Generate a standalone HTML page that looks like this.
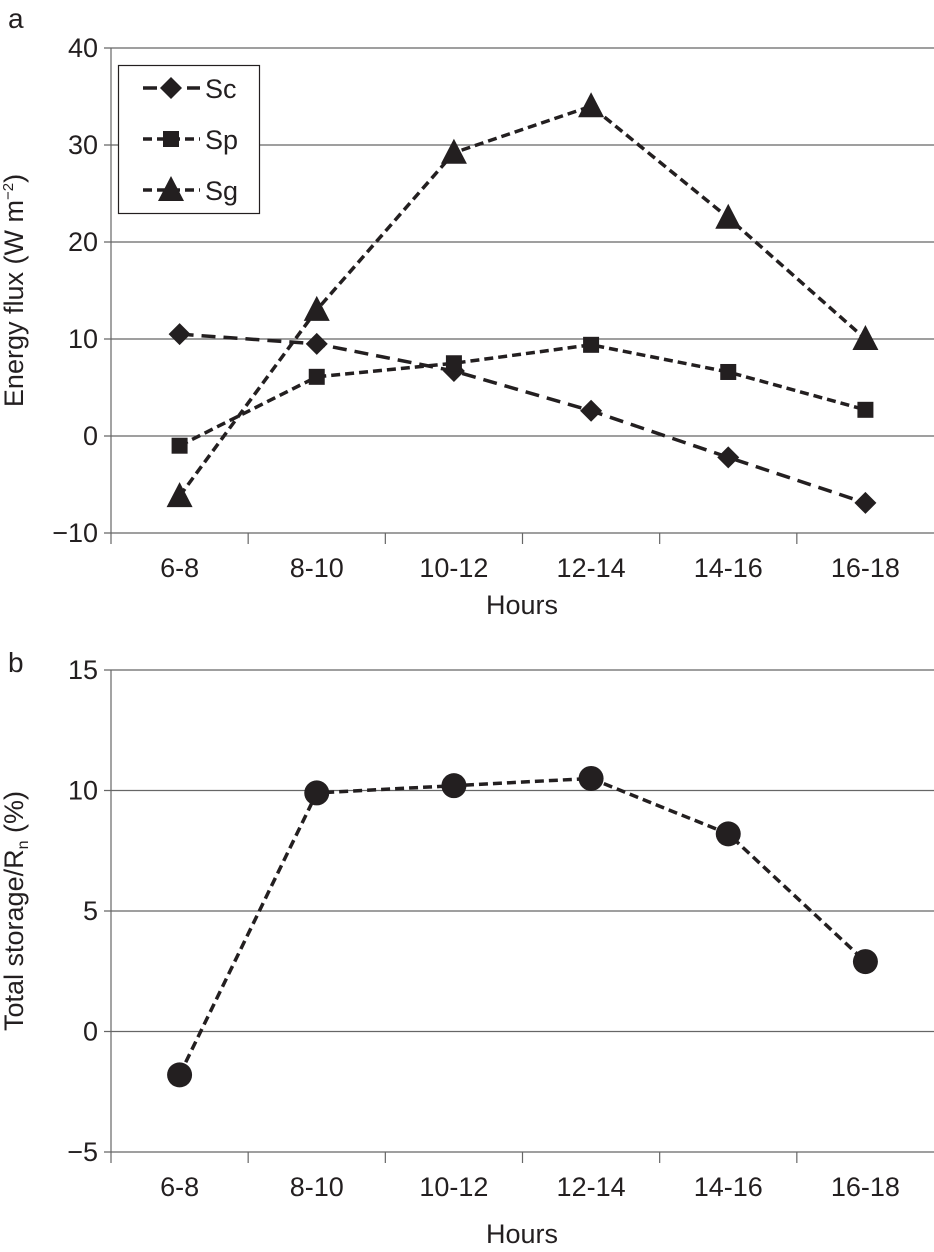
<!DOCTYPE html>
<html><head><meta charset="utf-8"><style>
body{margin:0;background:#fff}
svg text{font-family:"Liberation Sans",Arial,sans-serif;fill:#231f20}
</style></head><body>
<svg id="s" width="934" height="1247" xmlns="http://www.w3.org/2000/svg"></svg>
<script>
const categories=["6-8","8-10","10-12","12-14","14-16","16-18"];
const scValues=[10.5,9.5,6.7,2.6,-2.2,-6.9];
const spValues=[-1,6.1,7.5,9.4,6.6,2.7];
const sgValues=[-6.2,13,29.2,34,22.5,10];
const storageValues=[-1.8,9.9,10.2,10.5,8.2,2.9];
const ticksA=[-10,0,10,20,30,40];
const ticksB=[-5,0,5,10,15];

const NS="http://www.w3.org/2000/svg";
const svg=document.getElementById('s');
const FS=27;
function el(tag,attrs,parent,text){const e=document.createElementNS(NS,tag);for(const k in attrs)e.setAttribute(k,attrs[k]);if(text!==undefined)e.textContent=text;(parent||svg).appendChild(e);return e;}
const left=111,right=934,step=(right-left)/6;
const xs=i=>left+step*(i+0.5);

function panel(name,top,bottom,ymin,ymax,ticks,ylabel,xlabelY){
  const g=el('g',{},svg);
  
  
  const ys=v=>bottom-(v-ymin)/(ymax-ymin)*(bottom-top);
  ticks.forEach(t=>{
    const y=ys(t);
    const gl=el('line',{x1:left-7,x2:right,y1:y,y2:y,stroke:'#666','stroke-width':1.2},g);
    
    
    const tl=el('text',{x:left-13,y:y+9,'text-anchor':'end','font-size':FS},g,t<0?'\u2212'+(-t):String(t));
    
    
  });
  el('line',{x1:left,x2:left,y1:top,y2:bottom+11,stroke:'#666','stroke-width':1.2},g);
  for(let i=1;i<6;i++)el('line',{x1:left+step*i,x2:left+step*i,y1:bottom,y2:bottom+11,stroke:'#666','stroke-width':1.2},g);
  categories.forEach((c,i)=>{
    const t=el('text',{x:xs(i),y:bottom+44,'text-anchor':'middle','font-size':FS},g,c);
    
    
  });
  const xl=el('text',{x:522,y:xlabelY,'text-anchor':'middle','font-size':FS},g,'Hours');
  
  
  const yl=el('text',{transform:`translate(23,${(top+bottom)/2}) rotate(-90)`,'text-anchor':'middle','font-size':FS},g);
  
  
  yl.innerHTML=ylabel;
  return {g,ys};
}
function marker(g,type,x,y,sz){
  let m;
  if(type==='d')m=el('polygon',{points:`${x},${y-11} ${x+11},${y} ${x},${y+11} ${x-11},${y}`,fill:'#231f20'},g);
  else if(type==='s')m=el('rect',{x:x-8,y:y-8,width:16,height:16,fill:'#231f20'},g);
  else if(type==='t')m=el('polygon',{points:`${x},${y-14} ${x+13},${y+11} ${x-13},${y+11}`,fill:'#231f20'},g);
  else m=el('circle',{cx:x,cy:y,r:sz||12.5,fill:'#231f20'},g);
  return m;
}
function series(p,vals,type,dash,name){
  const g=el('g',{},p.g);
  
  
  el('polyline',{points:vals.map((v,i)=>xs(i)+','+p.ys(v)).join(' '),fill:'none',stroke:'#231f20','stroke-width':3.5,'stroke-dasharray':dash},g);
  vals.forEach((v,i)=>{const m=marker(g,type,xs(i),p.ys(v));
    
    });
}
// panel a
const la=el('text',{x:8,y:28,'font-size':28},svg,'a');


const pa=panel('panel-a-chart',48,533,-10,40,ticksA,'Energy flux (W m<tspan font-size="15" dy="-10">\u22122</tspan><tspan dy="10">)</tspan>',614);
series(pa,scValues,'d','14 8','series-sc');
series(pa,spValues,'s','9 5','series-sp');
series(pa,sgValues,'t','9 5','series-sg');
const leg=el('g',{},svg);


el('rect',{x:118.5,y:65.5,width:141,height:148,fill:'#fff',stroke:'#231f20','stroke-width':1.2},leg);
[['Sc','d','14 8',90],['Sp','s','9 5',141],['Sg','t','9 5',192]].forEach(([n,t,d,y])=>{
  const e=el('g',{},leg);
  
  
  el('line',{x1:143,x2:200,y1:y-2,y2:y-2,stroke:'#231f20','stroke-width':3.5,'stroke-dasharray':d},e);
  marker(e,t,171,y-2);
  el('text',{x:205,y:y+8,'font-size':FS},e,n);
});
// panel b
const lb=el('text',{x:8,y:672,'font-size':28},svg,'b');


const pb=panel('panel-b-chart',670,1152,-5,15,ticksB,'Total storage/R<tspan font-size="16" dy="5">n</tspan><tspan dy="-5"> (%)</tspan>',1243);
series(pb,storageValues,'c','9 5','series-total-storage');
</script>
</body></html>
